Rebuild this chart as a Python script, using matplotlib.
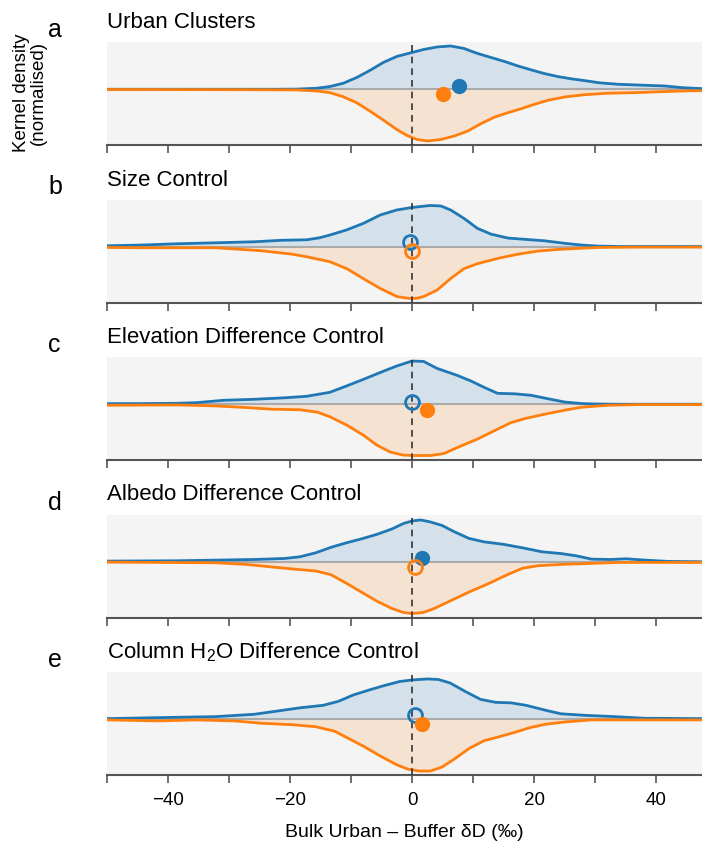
import numpy as np
import matplotlib
matplotlib.use("Agg")
import matplotlib.pyplot as plt
from matplotlib.ticker import MultipleLocator

plt.rcParams['font.family'] = ['Liberation Sans', 'DejaVu Sans']
plt.rcParams['mathtext.fontset'] = 'custom'
plt.rcParams['mathtext.rm'] = 'Liberation Sans'
plt.rcParams['mathtext.it'] = 'Liberation Sans:italic'
plt.rcParams['mathtext.bf'] = 'Liberation Sans:bold'

# ---------------- data ----------------
panel_letters = ['a', 'b', 'c', 'd', 'e']
panel_titles = ['Urban Clusters', 'Size Control', 'Elevation Difference Control',
                'Albedo Difference Control', 'Column H$_\\mathregular{2}$O Difference Control']

blue_a_x = [-50, -35, -22, -19, -15.7, -13.5, -11.3, -9.1, -6.9, -4.7, -2.5, 0, 1.9, 4.1, 6.3, 8.5, 10.7,
            12.9, 15.1, 17.3, 19.5, 21.7, 23.9, 26.1, 28.5, 30.7, 33.8, 38.2, 41.4, 44.5, 47.5]
blue_a_y = [0, 0, 0, 0.003, 0.02, 0.054, 0.12, 0.235, 0.38, 0.54, 0.66, 0.74, 0.80, 0.85, 0.87, 0.82, 0.72,
            0.64, 0.56, 0.47, 0.39, 0.315, 0.255, 0.21, 0.17, 0.13, 0.10, 0.08, 0.066, 0.03, 0.013]
orange_a_x = [-50, -30, -19, -15.7, -13.5, -11.3, -9.1, -6.9, -4.7, -2.5, -0.8, 0.8, 2.5, 4.7, 6.9, 9.1,
              11.3, 13.5, 15.7, 17.9, 20.1, 22.3, 25, 28.2, 32, 37, 41.4, 45.8, 47.5]
orange_a_y = [-0.005, -0.008, -0.013, -0.034, -0.067, -0.15, -0.27, -0.44, -0.62, -0.81, -0.93, -1.01,
              -1.04, -1.01, -0.94, -0.84, -0.69, -0.56, -0.47, -0.39, -0.30, -0.22, -0.155, -0.11, -0.08,
              -0.066, -0.046, -0.03, -0.03]

blue_b_x = [-50, -44.8, -38.5, -32.2, -25.9, -21.5, -17.3, -15.2, -13.5, -10.7, -8, -5.2, -2.5, 0, 1.5, 3,
            4.7, 6.3, 8.5, 10.7, 12.9, 15.7, 18.4, 21.7, 25, 27.7, 30.5, 34, 47.5]
blue_b_y = [0.02, 0.033, 0.06, 0.08, 0.1, 0.13, 0.14, 0.18, 0.235, 0.34, 0.47, 0.64, 0.74, 0.79, 0.81, 0.83,
            0.82, 0.74, 0.57, 0.37, 0.255, 0.175, 0.15, 0.12, 0.07, 0.035, 0.013, 0.005, 0.005]
orange_b_x = [-50, -44.8, -32.2, -29, -24.7, -19.6, -17.3, -13.5, -10.7, -8, -5.2, -2.5, -1, 0, 1, 1.9,
              4.1, 6.3, 8.5, 10.7, 14, 17.3, 20.6, 23.9, 27.7, 30.7, 37, 47.5]
orange_b_y = [-0.013, -0.02, -0.02, -0.045, -0.08, -0.15, -0.2, -0.3, -0.44, -0.64, -0.84, -1.0, -1.03,
              -1.04, -1.03, -1.0, -0.87, -0.64, -0.44, -0.34, -0.235, -0.15, -0.087, -0.054, -0.03, -0.013,
              -0.007, -0.007]

blue_c_x = [-50, -44.8, -38.5, -35.3, -30.9, -25.9, -20.9, -17.3, -13.5, -10.7, -8, -5.2, -2.5, 0, 1.9,
            4.1, 7.4, 9.6, 11.8, 14, 16.8, 19.5, 22.3, 25, 27.7, 30, 33.8, 47.5]
blue_c_y = [0.013, 0.013, 0.02, 0.033, 0.08, 0.1, 0.13, 0.16, 0.24, 0.37, 0.5, 0.64, 0.77, 0.87, 0.86,
            0.72, 0.58, 0.47, 0.34, 0.22, 0.21, 0.18, 0.11, 0.045, 0.015, 0.005, 0, 0]
orange_c_x = [-50, -38.5, -32.2, -27.2, -22.8, -18.4, -15.5, -13.5, -10.7, -8, -5.8, -3.6, -1.5, 0, 3, 5.2,
              7.4, 10.7, 14, 16.2, 18.4, 21.7, 25, 27.7, 32, 37, 47.5]
orange_c_y = [-0.02, -0.013, -0.033, -0.066, -0.1, -0.11, -0.16, -0.25, -0.42, -0.62, -0.82, -0.96, -1.02,
              -1.03, -1.03, -0.99, -0.87, -0.70, -0.50, -0.37, -0.29, -0.2, -0.12, -0.06, -0.02, -0.007,
              -0.007]

blue_d_x = [-50, -38.5, -32.2, -25.9, -20.9, -18.4, -15.8, -13.3, -10.8, -8.3, -5.8, -3.3, -1.4, 0, 1.4,
            3, 4.9, 6.8, 9.3, 11.8, 15, 18.1, 21.3, 24.4, 26.9, 29.4, 32.6, 35.1, 38.2, 42, 47.5]
blue_d_y = [0.013, 0.02, 0.033, 0.046, 0.066, 0.1, 0.18, 0.29, 0.38, 0.46, 0.55, 0.66, 0.77, 0.82, 0.84,
            0.80, 0.73, 0.61, 0.47, 0.40, 0.35, 0.28, 0.2, 0.165, 0.12, 0.053, 0.046, 0.06, 0.033, 0.007, 0]
orange_d_x = [-50, -32.2, -27.2, -23.4, -19.6, -15.8, -13.3, -10.8, -8.3, -5.8, -3.3, -1.4, 0, 1.8, 3.6,
              6.2, 9.3, 12.5, 15.6, 18.1, 20.6, 24.4, 29.4, 33.8, 47.5]
orange_d_y = [-0.007, -0.02, -0.053, -0.1, -0.145, -0.185, -0.26, -0.43, -0.61, -0.79, -0.94, -1.02,
              -1.04, -1.02, -0.94, -0.79, -0.61, -0.44, -0.26, -0.13, -0.08, -0.053, -0.033, -0.013, -0.013]

blue_e_x = [-50, -38.5, -32.2, -25.9, -22.1, -18.4, -14.6, -12.1, -9.6, -7, -4.5, -2, 0, 2.4, 4.3, 6.2,
            8.7, 11.2, 13.7, 16.2, 18.7, 21.9, 24.4, 28.2, 33.2, 38.2, 47.5]
blue_e_y = [0.013, 0.04, 0.053, 0.1, 0.165, 0.23, 0.28, 0.36, 0.49, 0.59, 0.68, 0.76, 0.79, 0.81, 0.80,
            0.73, 0.56, 0.40, 0.34, 0.33, 0.28, 0.18, 0.11, 0.08, 0.053, 0.02, 0.013]
orange_e_x = [-50, -41.6, -35.3, -29.1, -24.7, -19.6, -15.8, -12.7, -10.2, -7.7, -5.2, -2.6, -0.75, 1.1,
              3, 4.9, 6.8, 9.3, 11.8, 14.3, 16.9, 19.4, 21.9, 25.1, 29.4, 47.5]
orange_e_y = [-0.013, -0.033, -0.013, -0.033, -0.08, -0.11, -0.15, -0.24, -0.40, -0.56, -0.74, -0.91,
              -1.0, -1.04, -1.04, -0.96, -0.81, -0.59, -0.43, -0.35, -0.26, -0.165, -0.1, -0.053, -0.013,
              -0.013]

blue_mean_x = [7.7, -0.4, 0.0, 1.6, 0.4]
blue_mean_y = [0.067, 0.10, 0.04, 0.08, 0.085]
blue_filled = [True, False, False, True, False]
orange_mean_x = [5.0, 0.0, 2.4, 0.5, 1.6]
orange_mean_y = [-0.087, -0.095, -0.12, -0.10, -0.10]
orange_filled = [True, False, True, False, True]

x_ticks = [-40, -20, 0, 20, 40]
x_label = 'Bulk Urban \u2013 Buffer \u03b4D (\u2030)'
y_label = 'Kernel density\n(normalised)'

blue_curves = [(blue_a_x, blue_a_y), (blue_b_x, blue_b_y), (blue_c_x, blue_c_y),
               (blue_d_x, blue_d_y), (blue_e_x, blue_e_y)]
orange_curves = [(orange_a_x, orange_a_y), (orange_b_x, orange_b_y), (orange_c_x, orange_c_y),
                 (orange_d_x, orange_d_y), (orange_e_x, orange_e_y)]

# ---------------- figure ----------------
W, H = 702, 843
fig = plt.figure(figsize=(W / 100, H / 100), dpi=100)
BLUE = '#1f77b4'
ORANGE = '#ff7f0e'
axes_tops = [42, 199.5, 357, 514.5, 672]
ax_h = 103
left = 107

for i in range(5):
    top = axes_tops[i]
    ax = fig.add_axes([left / W, 1 - (top + ax_h) / H, 1 - left / W, ax_h / H])
    ax.set_facecolor('#f4f4f4')
    bx, by = blue_curves[i]
    ox, oy = orange_curves[i]
    ax.fill_between(bx, 0, by, color=BLUE, alpha=0.15, lw=0, zorder=1)
    ax.fill_between(ox, 0, oy, color=ORANGE, alpha=0.15, lw=0, zorder=1)
    ax.axhline(0, color='#aaaaaa', lw=1.5, zorder=2)
    ax.plot(bx, by, color=BLUE, lw=2, zorder=3, solid_joinstyle='round')
    ax.plot(ox, oy, color=ORANGE, lw=2, zorder=3.1, solid_joinstyle='round')
    ax.axvline(0, color='#333333', lw=1.2, ls=(0, (4, 3)), zorder=4)
    for mx, my, filled, c in [(blue_mean_x[i], blue_mean_y[i], blue_filled[i], BLUE),
                              (orange_mean_x[i], orange_mean_y[i], orange_filled[i], ORANGE)]:
        if filled:
            ax.plot(mx, my, 'o', ms=10, color=c, mec=c, zorder=5)
        else:
            ax.plot(mx, my, 'o', ms=10, mfc='none', mec=c, mew=2, zorder=5)
    ax.set_xlim(-50, 47.5)
    ax.set_ylim(-1.12, 0.95)
    ax.set_yticks([])
    for s in ['top', 'right', 'left']:
        ax.spines[s].set_visible(False)
    ax.spines['bottom'].set_color('#555555')
    ax.spines['bottom'].set_linewidth(1.5)
    ax.xaxis.set_major_locator(MultipleLocator(20))
    ax.xaxis.set_minor_locator(MultipleLocator(10))
    ax.tick_params(axis='x', which='both', length=6, width=1.2, color='#555555',
                   labelsize=13.5, pad=6)
    ax.set_xticks(x_ticks)
    if i < 4:
        ax.tick_params(axis='x', labelbottom=False)
    else:
        ax.set_xticklabels(['\u2212%d' % abs(t) if t < 0 else '%d' % t for t in x_ticks])
        ax.set_xlabel(x_label, fontsize=14, labelpad=11)
    ax.text(0, 1 + 14 / ax_h, panel_titles[i], transform=ax.transAxes, fontsize=16,
            ha='left', va='baseline')
    fig.text(48 / W, 1 - (top - 5) / H, panel_letters[i], fontsize=18, ha='left', va='baseline')

fig.text(30 / W, 1 - 93 / H, y_label, rotation=90, fontsize=13.5, ha='center', va='center',
         multialignment='center', linespacing=1.0)

fig.savefig('out.png', dpi=100)
